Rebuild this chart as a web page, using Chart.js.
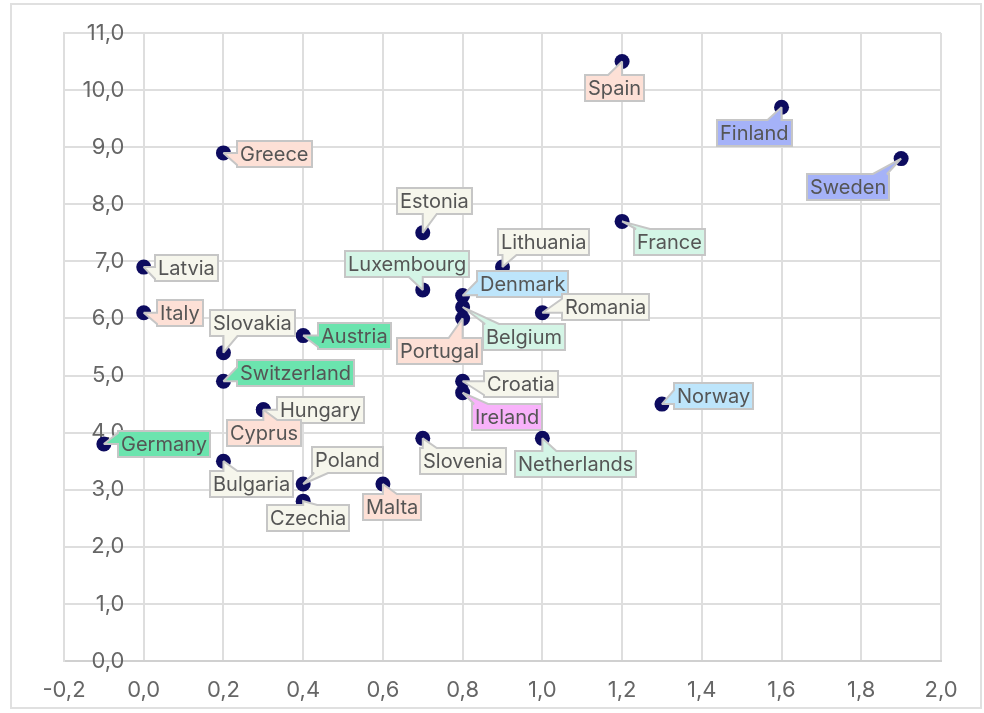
<!DOCTYPE html>
<html>
<head>
<meta charset="utf-8">
<script src="https://cdn.jsdelivr.net/npm/chart.js@4/dist/chart.umd.min.js"></script>
<style>
  body { margin: 0; background: #fff; }
  #box {
    position: absolute; left: 10px; top: 3px;
    width: 972px; height: 706px;
    border: 2px solid #e0e0e0; box-sizing: border-box;
  }
</style>
</head>
<body>
<div id="box"><canvas id="chart"></canvas></div>
<script>
// Daten
const countries = ["Spain", "Finland", "Sweden", "Greece", "Estonia", "France", "Latvia", "Lithuania",
    "Luxembourg", "Denmark", "Romania", "Italy", "Belgium", "Portugal", "Slovakia", "Austria",
    "Switzerland", "Croatia", "Ireland", "Norway", "Hungary", "Cyprus", "Germany", "Slovenia",
    "Netherlands", "Bulgaria", "Poland", "Malta", "Czechia"];
const xValues = [1.2, 1.6, 1.9, 0.2, 0.7, 1.2, 0.0, 0.9,
    0.7, 0.8, 1.0, 0.0, 0.8, 0.8, 0.2, 0.4,
    0.2, 0.8, 0.8, 1.3, 0.3, 0.3, -0.1, 0.7,
    1.0, 0.2, 0.4, 0.6, 0.4];
const yValues = [10.5, 9.7, 8.8, 8.9, 7.5, 7.7, 6.9, 6.9,
    6.5, 6.4, 6.1, 6.1, 6.2, 6.0, 5.4, 5.7,
    4.9, 4.9, 4.7, 4.5, 4.4, 4.4, 3.8, 3.9,
    3.9, 3.5, 3.1, 3.1, 2.8];

// Farben der Label-Boxen
const PEACH = "#fde0d6", CREAM = "#f6f6ec", MINT = "#d4f5e6", GREEN = "#6be4ae",
      BLUE = "#bde5fb", VIOLET = "#a5b2f8", PINK = "#f8b2fa";
const labelFills = [PEACH, VIOLET, VIOLET, PEACH, CREAM, MINT, CREAM, CREAM,
    MINT, BLUE, CREAM, PEACH, MINT, PEACH, CREAM, GREEN,
    GREEN, CREAM, PINK, BLUE, CREAM, PEACH, GREEN, CREAM,
    MINT, CREAM, CREAM, PEACH, CREAM];

// Versatz der Label-Box (linke obere Ecke) relativ zum Punkt, in px
const labelOffsets = [[-37, 13], [-65, 13], [-94, 15], [14, -12], [-26, -45], [12, 8], [11, -12], [-5, -38],
    [-78, -39], [14, -25], [20, -19], [13, -13], [20, 17], [-66, 20], [-13, -43], [15, -13],
    [14, -21], [21, -10], [9, 11], [12, -21], [14, -13], [-36, 10], [14, -13], [-3, 10],
    [-27, 13], [-13, 10], [9, -37], [-20, 10], [-36, 4]];

const TICK_SIZE = 22;

function fmt(v) {
    if (Math.abs(v) < 1e-9) v = 0;
    return v.toFixed(1).replace(".", ",");
}

// Breite des breitesten y-Labels, damit die Labels rechtsbündig bei x=56 px im Plot stehen
const measureCtx = document.createElement("canvas").getContext("2d");
measureCtx.font = TICK_SIZE + "px Inter";
const yLabelWidth = measureCtx.measureText("11,0").width;

// Box mit Zeiger als ein Pfad
function calloutPath(ctx, L, T, w, h, ax, ay) {
    const R = L + w, B = T + h, bw = 14;
    const side = ay < T ? "top" : ay > B ? "bottom" : ax < L ? "left" : "right";
    const clamp = (v, a, b) => Math.max(a, Math.min(b, v));
    const base = (v, lo, hi) => {
        const mid = (lo + hi) / 2;
        const p1 = clamp(v, lo + 2, hi - 2);
        const p2 = clamp(p1 + (mid >= p1 ? bw : -bw), lo + 2, hi - 2);
        return [Math.min(p1, p2), Math.max(p1, p2)];
    };
    ctx.beginPath();
    ctx.moveTo(L, T);
    if (side === "top") { const [a, b] = base(ax, L, R); ctx.lineTo(a, T); ctx.lineTo(ax, ay); ctx.lineTo(b, T); }
    ctx.lineTo(R, T);
    if (side === "right") { const [a, b] = base(ay, T, B); ctx.lineTo(R, a); ctx.lineTo(ax, ay); ctx.lineTo(R, b); }
    ctx.lineTo(R, B);
    if (side === "bottom") { const [a, b] = base(ax, L, R); ctx.lineTo(b, B); ctx.lineTo(ax, ay); ctx.lineTo(a, B); }
    ctx.lineTo(L, B);
    if (side === "left") { const [a, b] = base(ay, T, B); ctx.lineTo(L, b); ctx.lineTo(ax, ay); ctx.lineTo(L, a); }
    ctx.closePath();
}

const calloutPlugin = {
    id: "callouts",
    afterDatasetsDraw(chart) {
        const ctx = chart.ctx;
        const meta = chart.getDatasetMeta(0);
        ctx.save();
        ctx.font = "20px Inter";
        ctx.textBaseline = "middle";
        ctx.lineJoin = "miter";
        ctx.miterLimit = 2;
        meta.data.forEach((pt, i) => {
            const tw = ctx.measureText(countries[i]).width;
            const bw = Math.round(tw + 6), bh = 26;
            const bx = Math.round(pt.x + labelOffsets[i][0]), by = Math.round(pt.y + labelOffsets[i][1]);
            calloutPath(ctx, bx, by, bw, bh, pt.x, pt.y);
            ctx.fillStyle = labelFills[i];
            ctx.fill();
            ctx.lineWidth = 2;
            ctx.strokeStyle = "#c6c6c6";
            ctx.stroke();
            ctx.fillStyle = "#555";
            ctx.fillText(countries[i], bx + 3, by + bh / 2 + 1);
        });
        ctx.restore();
    }
};

Chart.defaults.font.family = "Inter";

new Chart(document.getElementById("chart"), {
    type: "scatter",
    data: {
        datasets: [{
            data: countries.map((c, i) => ({ x: xValues[i], y: yValues[i] })),
            backgroundColor: "#0d0b5f",
            borderWidth: 0,
            pointRadius: 7.5,
            pointHoverRadius: 7.5
        }]
    },
    options: {
        responsive: true,
        maintainAspectRatio: false,
        animation: false,
        events: [],
        layout: { padding: { left: 0, right: 39, top: 28, bottom: 0 } },
        plugins: { legend: { display: false }, tooltip: { enabled: false } },
        scales: {
            x: {
                min: -0.2, max: 2.0,
                afterFit: s => { s.height = 46; },
                grid: { color: "#dedede", lineWidth: 2, drawTicks: false },
                border: { color: "#d0d0d0", width: 2 },
                ticks: {
                    stepSize: 0.2, autoSkip: false, maxRotation: 0, padding: 16,
                    color: "#666", font: { size: TICK_SIZE },
                    callback: v => fmt(v)
                }
            },
            y: {
                min: 0, max: 11,
                afterFit: s => { s.width = 52; s.paddingTop = 13; s.paddingBottom = 13; },
                grid: { color: "#dedede", lineWidth: 2, drawTicks: false },
                border: { color: "#dedede", width: 2 },
                ticks: {
                    stepSize: 1, mirror: true, crossAlign: "far",
                    padding: 56 - yLabelWidth,
                    color: "#666", font: { size: TICK_SIZE },
                    callback: v => fmt(v)
                }
            }
        }
    },
    plugins: [calloutPlugin]
});
</script>
</body>
</html>
